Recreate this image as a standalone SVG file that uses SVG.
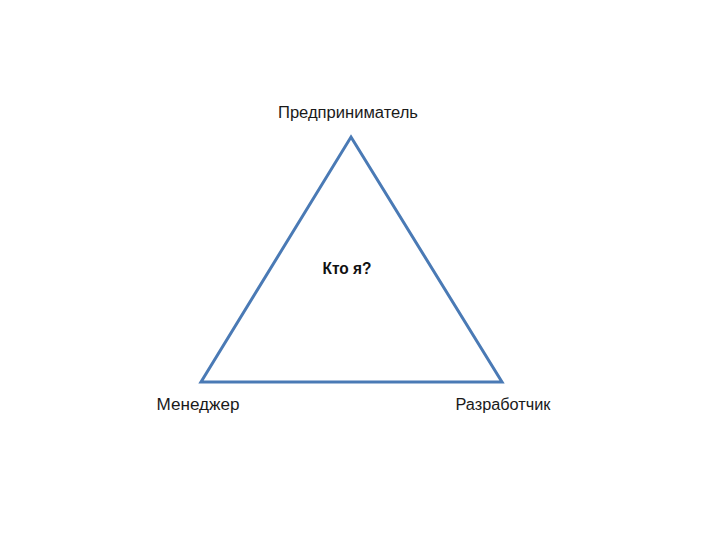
<svg xmlns="http://www.w3.org/2000/svg" width="720" height="540" viewBox="0 0 720 540">
<style>
.lbl{font-family:"Liberation Sans","DejaVu Sans",sans-serif;font-size:16px;fill:#1a1a1a;text-anchor:middle}
.ctr{font-family:"Liberation Sans","DejaVu Sans",sans-serif;font-size:16px;font-weight:bold;fill:#111;text-anchor:middle}
.edge{fill:none;stroke:#4a7ab5;stroke-width:3;stroke-linejoin:miter}
</style>
<rect width="720" height="540" fill="#fff"/>
<g id="connectors">
<polygon class="edge" points="351,137 502,382 201,382"/>
</g>
<g id="node-top"><text class="lbl" x="348" y="118" textLength="140" lengthAdjust="spacingAndGlyphs">Предприниматель</text></g>
<g id="node-center"><text class="ctr" x="347" y="274" textLength="49" lengthAdjust="spacingAndGlyphs">Кто я?</text></g>
<g id="node-left"><text class="lbl" x="198" y="410" textLength="83" lengthAdjust="spacingAndGlyphs">Менеджер</text></g>
<g id="node-right"><text class="lbl" x="503" y="410" textLength="95" lengthAdjust="spacingAndGlyphs">Разработчик</text></g>
</svg>
